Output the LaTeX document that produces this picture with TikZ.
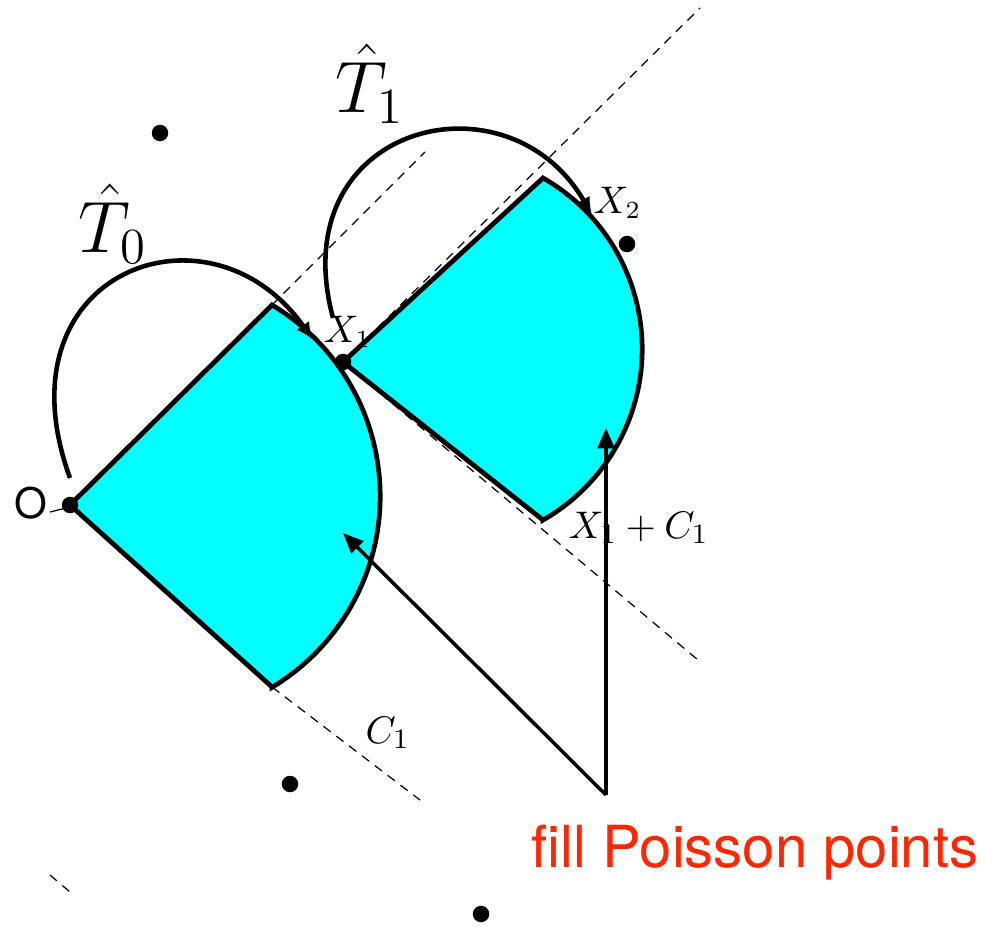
\documentclass[tikz,border=0pt]{standalone}
\usepackage{fontspec}
\setsansfont{TeX Gyre Heros}
\usepackage{tikz}
\usetikzlibrary{arrows.meta,calc}
\usepackage{xcolor}
\definecolor{conecyan}{RGB}{0,255,255}
\definecolor{notered}{RGB}{255,38,0}

\begin{document}
\begin{tikzpicture}[
  pt/.style={circle, fill=black, minimum size=1.65mm, inner sep=0pt},
  cone/.style={draw, fill=conecyan, line width=1.35pt, line join=miter},
  guide/.style={line width=0.35pt, dash pattern=on 2.6pt off 2pt},
  jump/.style={line width=1.3pt, -{Latex[length=5pt,width=4.4pt]}},
  fillarrow/.style={line width=1pt, -{Triangle[length=5.8pt,width=4.8pt]}},
  lab/.style={inner sep=0pt, anchor=base west}]
\useasboundingbox (0,0) rectangle (10,-9.27);

% points of the cones
\coordinate (O)    at (0.70,-5.05);
\coordinate (c0t)  at (2.72,-3.05);
\coordinate (c0b)  at (2.72,-6.87);
\coordinate (X1)   at (3.43,-3.62);
\coordinate (c1t)  at (5.43,-1.78);
\coordinate (c1b)  at (5.43,-5.20);

% dashed guide lines
\coordinate (gA) at (7.00,-0.08);
\coordinate (gB) at (6.98,-6.60);
\coordinate (gD) at (4.25,-1.52);
\coordinate (gC) at (4.20,-8.00);
\coordinate (gO1) at (0.50,-5.12);
\coordinate (gO2) at (0.66,-5.08);
\coordinate (gL1) at (0.50,-8.75);
\coordinate (gL2) at (0.70,-8.92);
\draw[guide] (X1) -- (gA);
\draw[guide] (X1) -- (gB);
\draw[guide] (c0t) -- (gD);
\draw[guide] (c0b) -- (gC);
\draw[line width=0.35pt] (gO1) -- (gO2);
\draw[guide] (gL1) -- (gL2);

% the two cones
\draw[cone] (O) -- (c0t) arc[start angle=59, end angle=-59, radius=2.23] -- (c0b) -- cycle;
\draw[cone] (X1) -- (c1t) arc[start angle=60.2, end angle=-60.2, radius=1.971] -- (c1b) -- cycle;

% jumps
\coordinate (t0s) at (0.70,-4.78);
\coordinate (t0e) at (3.13,-3.40);
\coordinate (t1s) at (3.33,-3.18);
\coordinate (t1e) at (5.92,-2.15);
\draw[jump] (t0s) .. controls +(110:2.2) and +(125:1.8) .. (t0e);
\draw[jump] (t1s) .. controls +(105:2.0) and +(120:1.7) .. (t1e);

% Poisson points
\node[pt] (pO)  at (O) {};
\node[pt] (pX1) at (X1) {};
\node[pt] (p1)  at (1.60,-1.33) {};
\node[pt] (p2)  at (6.27,-2.44) {};
\node[pt] (p3)  at (2.90,-7.84) {};
\node[pt] (p4)  at (4.81,-9.14) {};

% labels
\node[inner sep=0pt] (lO) at (0.31,-5.03) {\sffamily\fontsize{12}{14}\selectfont O};
\node[lab] (lT0) at (0.78,-2.53) {\fontsize{20}{24}\selectfont $\hat{T}_0$};
\node[lab] (lT1) at (3.35,-1.13) {\fontsize{20}{24}\selectfont $\hat{T}_1$};
\node[lab] (lX1) at (3.23,-3.42) {\fontsize{10.5}{12}\selectfont $X_1$};
\node[lab] (lX2) at (5.93,-2.13) {\fontsize{10.5}{12}\selectfont $X_2$};
\node[lab] (lXC) at (5.68,-5.38) {\fontsize{11}{13}\selectfont $X_1+C_1$};
\node[lab] (lC1) at (3.65,-7.43) {\fontsize{11}{13}\selectfont $C_1$};
\node[lab, text=notered] (fill) at (5.31,-8.67) {\sffamily\fontsize{16.5}{19}\selectfont fill Poisson points};

% arrows to the regions to be filled
\coordinate (src)  at (6.06,-7.95);
\coordinate (tip0) at (3.43,-5.33);
\coordinate (tip1) at (6.06,-4.28);
\draw[fillarrow] (src) -- (tip0);
\draw[fillarrow] (src) -- (tip1);
\end{tikzpicture}
\end{document}
